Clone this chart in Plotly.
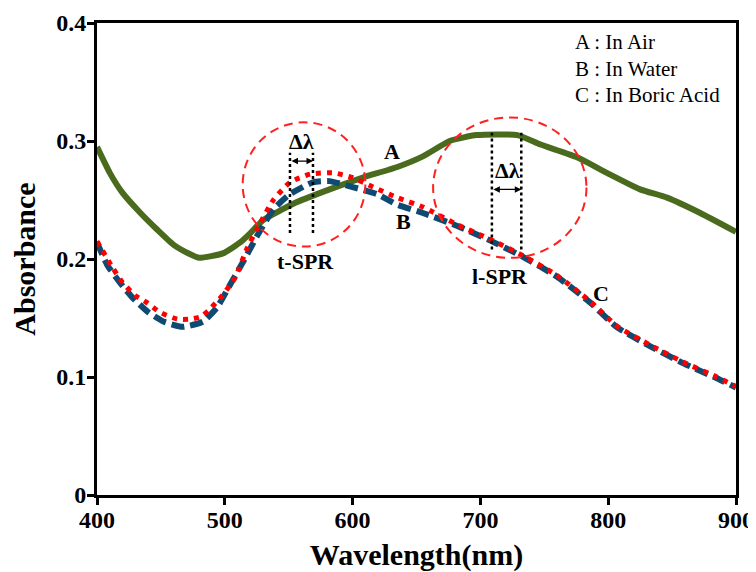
import plotly.graph_objects as go

# curve A : in air
wl_a = [400, 410, 420, 434, 447, 460, 473, 480, 499, 512, 520, 530, 545, 556, 582, 608, 635, 655, 676,
        697, 729, 747, 776, 799, 825, 846, 872, 900]
abs_a = [0.295, 0.273, 0.256, 0.239, 0.225, 0.212, 0.204, 0.201, 0.205, 0.214, 0.222, 0.233, 0.242, 0.248,
         0.259, 0.269, 0.278, 0.287, 0.300, 0.305, 0.305, 0.297, 0.286, 0.273, 0.259, 0.252, 0.239, 0.223]

# curve B : in water
wl_b = [400, 408, 418, 428, 440, 452, 467, 483, 494, 504, 514, 525, 538, 551, 569, 582, 600, 619, 635,
        655, 682, 707, 733, 760, 786, 807, 833, 858, 885, 900]
abs_b = [0.214, 0.195, 0.180, 0.167, 0.155, 0.147, 0.1425, 0.147, 0.159, 0.178, 0.197, 0.219, 0.242, 0.255,
         0.265, 0.266, 0.261, 0.255, 0.246, 0.239, 0.228, 0.216, 0.202, 0.185, 0.163, 0.142, 0.126, 0.112,
         0.099, 0.091]

# curve C : in boric acid
wl_c = [400, 412, 420, 430, 439, 449, 463, 473, 481, 487, 498, 508, 517, 525, 538, 551, 567, 585, 600,
        616, 635, 655, 682, 707, 733, 760, 786, 807, 833, 858, 885, 900]
abs_c = [0.215, 0.193, 0.180, 0.169, 0.163, 0.155, 0.149, 0.149, 0.151, 0.156, 0.169, 0.184, 0.208, 0.225,
         0.250, 0.265, 0.272, 0.273, 0.269, 0.261, 0.252, 0.244, 0.229, 0.217, 0.203, 0.186, 0.164, 0.143,
         0.127, 0.113, 0.100, 0.092]

legend_lines = ["A : In Air", "B : In Water", "C : In Boric Acid"]

serif = "Liberation Serif, Times New Roman, DejaVu Serif, serif"

fig = go.Figure()
fig.add_trace(go.Scatter(x=wl_a, y=abs_a, mode="lines", line=dict(color="#4a6a1e", width=6, shape="spline", smoothing=0.5)))
fig.add_trace(go.Scatter(x=wl_b, y=abs_b, mode="lines", line=dict(color="#0f4a72", width=6, dash="13px,6px", shape="spline", smoothing=0.5)))
fig.add_trace(go.Scatter(x=wl_c, y=abs_c, mode="lines", line=dict(color="#ff0000", width=5, dash="5px,6px", shape="spline", smoothing=0.5)))

# red dashed circles
circ = dict(type="circle", xref="x", yref="y", line=dict(color="#ff2020", width=2, dash="9px,6px"))
fig.add_shape(x0=514, x1=610, y0=0.2105, y1=0.3158, **circ)
fig.add_shape(x0=663, x1=783, y0=0.201, y1=0.320, **circ)

# dotted vertical markers
vl = dict(type="line", xref="x", yref="y", line=dict(color="black", width=2.5, dash="dot"))
fig.add_shape(x0=551, x1=551, y0=0.222, y1=0.290, **vl)
fig.add_shape(x0=569, x1=569, y0=0.222, y1=0.290, **vl)
fig.add_shape(x0=709, x1=709, y0=0.208, y1=0.307, **vl)
fig.add_shape(x0=732, x1=732, y0=0.208, y1=0.307, **vl)

# double arrows
for xa, xb, yy in [(551, 569, 0.283), (709, 732, 0.259)]:
    fig.add_annotation(x=xb, y=yy, ax=xa, ay=yy, axref="x", ayref="y", xref="x", yref="y", text="",
                       showarrow=True, arrowhead=2, startarrowhead=2, arrowside="end+start",
                       arrowsize=1, arrowwidth=1.3, arrowcolor="black")

bold = dict(family=serif, size=22, color="black")
texts = [(560, 0.300, "<b>Δλ</b>"), (563, 0.198, "<b>t-SPR</b>"), (721, 0.275, "<b>Δλ</b>"),
         (715, 0.185, "<b>l-SPR</b>"), (631, 0.291, "<b>A</b>"), (640, 0.232, "<b>B</b>"), (794, 0.171, "<b>C</b>")]
for tx, ty, t in texts:
    fig.add_annotation(x=tx, y=ty, text=t, showarrow=False, font=bold)

for i, t in enumerate(legend_lines):
    fig.add_annotation(x=0.745, y=0.96 - i * 0.0565, xref="paper", yref="paper", text=t, showarrow=False,
                       xanchor="left", yanchor="middle", font=dict(family=serif, size=21, color="black"))

axis_common = dict(showgrid=False, zeroline=False, showline=True, linecolor="black", linewidth=3, mirror=True,
                   ticks="outside", ticklen=7, tickwidth=2.5, tickcolor="black",
                   tickfont=dict(family=serif, size=24, color="black"))
fig.update_xaxes(range=[400, 900], tickvals=[400, 500, 600, 700, 800, 900],
                 ticktext=["<b>%d</b>" % v for v in [400, 500, 600, 700, 800, 900]], ticklabelstandoff=-6,
                 title=dict(text="<b>Wavelength(nm)</b>", font=dict(family=serif, size=30, color="black"), standoff=14),
                 **axis_common)
fig.update_yaxes(range=[0, 0.4], tickvals=[0, 0.1, 0.2, 0.3, 0.4], ticktext=["<b>0</b>", "<b>0.1</b>", "<b>0.2</b>", "<b>0.3</b>", "<b>0.4</b>"],
                 ticklabelstandoff=-4,
                 title=dict(text="<b>Absorbance</b>", font=dict(family=serif, size=30, color="black"), standoff=18),
                 **axis_common)
fig.update_layout(width=748, height=564, margin=dict(l=89, r=20, t=15, b=77), showlegend=False,
                  font=dict(family=serif, color="black"),
                  plot_bgcolor="white", paper_bgcolor="white", template="none")
fig.write_html("out.html")
